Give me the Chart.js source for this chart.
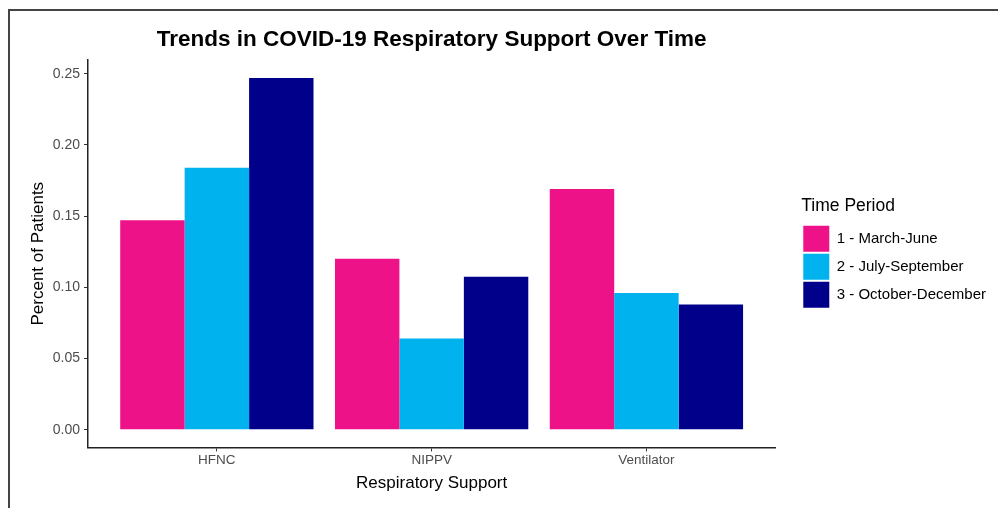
<!DOCTYPE html>
<html lang="en">
<head>
    <meta charset="UTF-8">
    <title>Trends in COVID-19 Respiratory Support Over Time</title>
    <script src="https://cdn.jsdelivr.net/npm/chart.js"></script>
    <style>
        body { margin: 0; background: #fff; }
        #wrap { position: relative; width: 998px; height: 508px; }
        #frame {
            position: absolute; left: 8px; top: 9px; right: 0; bottom: 0;
            border-left: 2px solid #444; border-top: 2px solid #444;
            pointer-events: none;
        }
    </style>
</head>
<body>
    <div id="wrap">
        <canvas id="supportChart" width="998" height="508"></canvas>
        <div id="frame"></div>
    </div>

    <script>
        // categories on the x axis
        const categories = ['HFNC', 'NIPPV', 'Ventilator'];
        // time periods (legend)
        const periods = ['1 - March-June', '2 - July-September', '3 - October-December'];
        const periodColors = ['#EE1289', '#00B2EE', '#00008B'];

        // percent of patients per period, in category order
        const marchJune = [0.147, 0.120, 0.169];
        const julySeptember = [0.184, 0.064, 0.096];
        const octoberDecember = [0.247, 0.1075, 0.088];

        const yTicks = [0.00, 0.05, 0.10, 0.15, 0.20, 0.25];

        Chart.defaults.font.family = "'Liberation Sans', Arial, sans-serif";

        function toPoints(values) {
            return values.map((v, i) => ({ x: i + 1, y: v }));
        }

        const seriesValues = [marchJune, julySeptember, octoberDecember];
        const datasets = periods.map((p, i) => ({
            label: p,
            data: toPoints(seriesValues[i]),
            backgroundColor: periodColors[i],
            borderWidth: 0,
            categoryPercentage: 0.9,
            barPercentage: 1.0
        }));

        // push the legend a bit away from the plot, like ggplot does
        const legendGap = {
            id: 'legendGap',
            afterLayout(chart) {
                chart.legend.left += 26;
                chart.legend.right += 26;
            }
        };

        const ctx = document.getElementById('supportChart').getContext('2d');
        new Chart(ctx, {
            type: 'bar',
            data: { datasets: datasets },
            plugins: [legendGap],
            options: {
                responsive: false,
                animation: false,
                layout: { padding: { top: 26, left: 28, right: 28, bottom: 14 } },
                plugins: {
                    tooltip: { enabled: false },
                    title: {
                        display: true,
                        text: 'Trends in COVID-19 Respiratory Support Over Time',
                        color: '#000',
                        fullSize: false,
                        font: { size: 22.5, weight: 'bold' },
                        padding: { top: 0, bottom: 7 }
                    },
                    legend: {
                        position: 'right',
                        align: 'center',
                        fullSize: false,
                        title: {
                            display: true,
                            text: 'Time Period',
                            color: '#000',
                            font: { size: 17.5 },
                            position: 'start',
                            padding: { top: 0, bottom: 5 }
                        },
                        labels: {
                            boxWidth: 26,
                            boxHeight: 26,
                            padding: 2,
                            color: '#000',
                            font: { size: 15 }
                        }
                    }
                },
                scales: {
                    x: {
                        type: 'linear',
                        min: 0.4,
                        max: 3.6,
                        offset: false,
                        afterBuildTicks: (scale) => {
                            scale.ticks = categories.map((c, i) => ({ value: i + 1 }));
                        },
                        grid: {
                            offset: false,
                            drawOnChartArea: false,
                            drawTicks: true,
                            tickLength: 4,
                            color: '#333'
                        },
                        border: { display: true, color: '#222', width: 1.5 },
                        ticks: {
                            color: '#4D4D4D',
                            font: { size: 13.5 },
                            padding: 1,
                            maxRotation: 0,
                            callback: (value) => categories[Math.round(value) - 1]
                        },
                        title: {
                            display: true,
                            text: 'Respiratory Support',
                            color: '#000',
                            font: { size: 17 },
                            padding: { top: 4, bottom: 0 }
                        }
                    },
                    y: {
                        min: -0.0124,
                        max: 0.2596,
                        afterBuildTicks: (scale) => {
                            scale.ticks = yTicks.map(v => ({ value: v }));
                        },
                        afterFit: (scale) => { scale.width = 60; },
                        grid: {
                            drawOnChartArea: false,
                            drawTicks: true,
                            tickLength: 4,
                            color: '#333'
                        },
                        border: { display: true, color: '#222', width: 1.5 },
                        ticks: {
                            color: '#4D4D4D',
                            font: { size: 14 },
                            padding: 4,
                            callback: (value) => value.toFixed(2)
                        },
                        title: {
                            display: true,
                            text: 'Percent of Patients',
                            color: '#000',
                            font: { size: 17 },
                            padding: { top: 0, bottom: 0 }
                        }
                    }
                }
            }
        });
    </script>
</body>
</html>
